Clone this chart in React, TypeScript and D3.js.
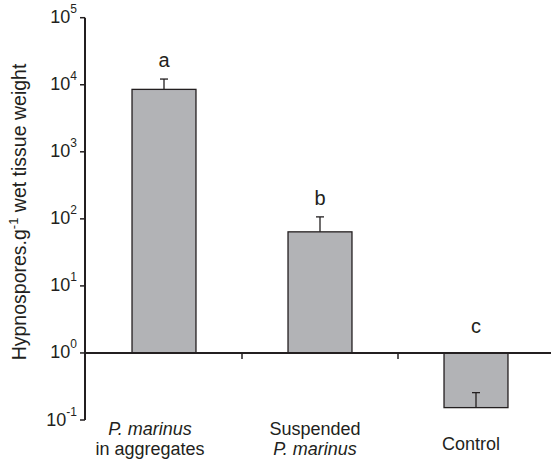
import { useEffect, useRef } from "react";
import * as d3 from "d3";

const CATEGORIES = ["agg", "susp", "ctrl"];
const MEANS = [8530, 64, 0.153];
const UPPER = [12160, 107, 0.256];
const LETTERS = ["a", "b", "c"];
const Y_EXPONENTS = [-1, 0, 1, 2, 3, 4, 5];
const X_LABELS = [
  [{ t: "P. marinus", it: true }, { t: "in aggregates", it: false }],
  [{ t: "Suspended", it: false }, { t: "P. marinus", it: true }],
  [{ t: "Control", it: false }],
];

const FONT = "'Liberation Sans', Arial, sans-serif";
// category labels sit a little left of the bar centres in the original
const LABEL_DX = [-14, -5, -5];

export default function App() {
  const svgRef = useRef<SVGSVGElement>(null);

  useEffect(() => {
    if (!svgRef.current) return;
    const W = 551, H = 461;
    const svg = d3.select(svgRef.current).attr("width", W).attr("height", H);
    svg.selectAll("*").remove();

    const y = d3.scaleLog().domain([0.1, 1e5]).range([420, 17.7]);
    const x = d3.scaleBand().domain(CATEGORIES).range([86, 554]).padding(0);
    const barW = x.bandwidth() * 0.41;
    const ink = "#231f20";

    // bars
    CATEGORIES.forEach((c, i) => {
      const cx = x(c)! + x.bandwidth() / 2;
      const y0 = y(1), y1 = y(MEANS[i]);
      svg.append("rect")
        .attr("x", cx - barW / 2).attr("y", Math.min(y0, y1))
        .attr("width", barW).attr("height", Math.abs(y0 - y1))
        .attr("fill", "#b2b3b6").attr("stroke", ink).attr("stroke-width", 1.3);
      // error whisker
      svg.append("line").attr("x1", cx).attr("x2", cx).attr("y1", y1).attr("y2", y(UPPER[i]))
        .attr("stroke", ink).attr("stroke-width", 1.3);
      svg.append("line").attr("x1", cx - 4).attr("x2", cx + 4).attr("y1", y(UPPER[i])).attr("y2", y(UPPER[i]))
        .attr("stroke", ink).attr("stroke-width", 1.3);
      // significance letter
      const ly = MEANS[i] >= 1 ? y(UPPER[i]) - 12 : y(1) - 20;
      svg.append("text").attr("x", cx).attr("y", ly).attr("text-anchor", "middle")
        .attr("font-family", FONT).attr("font-size", 20).attr("fill", ink).text(LETTERS[i]);
      // category labels
      const lines = X_LABELS[i];
      lines.forEach((ln, j) => {
        const by = lines.length === 1 ? 450 : 435 + j * 20;
        svg.append("text").attr("x", cx + LABEL_DX[i]).attr("y", by).attr("text-anchor", "middle")
          .attr("font-family", FONT).attr("font-size", 18).attr("fill", ink)
          .attr("font-style", ln.it ? "italic" : "normal").text(ln.t);
      });
    });

    // y axis
    svg.append("line").attr("x1", 85).attr("x2", 85).attr("y1", y(1e5)).attr("y2", y(0.1))
      .attr("stroke", ink).attr("stroke-width", 2);
    Y_EXPONENTS.forEach(e => {
      const ty = y(Math.pow(10, e));
      svg.append("line").attr("x1", 80).attr("x2", 85).attr("y1", ty).attr("y2", ty)
        .attr("stroke", ink).attr("stroke-width", 1.5);
      const t = svg.append("text").attr("x", 77).attr("y", ty + 5.5).attr("text-anchor", "end")
        .attr("font-family", FONT).attr("font-size", 18).attr("fill", ink);
      t.append("tspan").text("10");
      t.append("tspan").attr("dy", -10).attr("font-size", 12).text(String(e));
    });

    // x axis at 10^0
    const x0 = y(1);
    svg.append("line").attr("x1", 85).attr("x2", W).attr("y1", x0).attr("y2", x0)
      .attr("stroke", ink).attr("stroke-width", 2);
    CATEGORIES.slice(1).forEach(c => {
      const tx = x(c)!;
      svg.append("line").attr("x1", tx).attr("x2", tx).attr("y1", x0).attr("y2", x0 + 6)
        .attr("stroke", ink).attr("stroke-width", 1.5);
    });

    // y label
    const yl = svg.append("text").attr("transform", "translate(26,212) rotate(-90)")
      .attr("text-anchor", "middle").attr("font-family", FONT).attr("font-size", 19.5).attr("fill", ink);
    yl.append("tspan").text("Hypnospores.g");
    yl.append("tspan").attr("dy", -8).attr("font-size", 13).text("-1");
    yl.append("tspan").attr("dy", 8).text(" wet tissue weight");
  }, []);

  return (
    <div style={{ position: "fixed", left: 0, top: 0, background: "white" }}>
      <svg ref={svgRef} style={{ display: "block" }} />
    </div>
  );
}
